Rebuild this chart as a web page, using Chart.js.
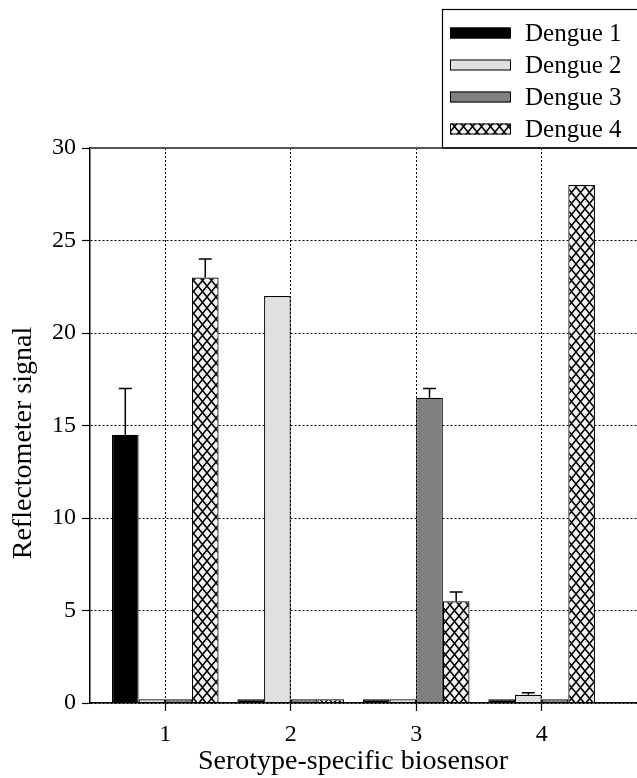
<!DOCTYPE html>
<html>
<head>
<meta charset="utf-8">
<title>Serotype-specific biosensor</title>
<script src="https://cdn.jsdelivr.net/npm/chart.js"></script>
<style>
    body { margin: 0; background: #fff; }
    #wrap { width: 637px; height: 778px; }
</style>
</head>
<body>
<div id="wrap"><canvas id="chart" width="637" height="778"></canvas></div>
<script>
// Data
const sensors = [1, 2, 3, 4];
const yTicks = [0, 5, 10, 15, 20, 25, 30];
const seriesNames = ['Dengue 1', 'Dengue 2', 'Dengue 3', 'Dengue 4'];
const dengue1 = [14.5, 0.2, 0.2, 0.2];
const dengue2 = [0.2, 22, 0.2, 0.45];
const dengue3 = [0.2, 0.2, 16.5, 0.2];
const dengue4 = [23, 0.2, 5.5, 28];
// upper error bar lengths
const dengue1Err = [2.5, 0, 0, 0];
const dengue2Err = [0, 0, 0, 0.1];
const dengue3Err = [0, 0, 0.5, 0];
const dengue4Err = [1, 0, 0.5, 0];

const SERIF = "'Liberation Serif', 'Times New Roman', serif";
Chart.defaults.font.family = SERIF;
Chart.defaults.color = '#000';

/**
 * Cross-hatch fill used for Dengue 4
 */
function makeHatch() {
    const w = 9, h = 11;
    const c = document.createElement('canvas');
    c.width = w;
    c.height = h;
    const g = c.getContext('2d');
    g.fillStyle = '#f2f2f2';
    g.fillRect(0, 0, w, h);
    g.strokeStyle = '#000';
    g.lineWidth = 1.5;
    for (const dx of [-w, 0, w]) {
        for (const dy of [-h, 0, h]) {
            g.beginPath();
            g.moveTo(dx, dy);
            g.lineTo(dx + w, dy + h);
            g.moveTo(dx + w, dy);
            g.lineTo(dx, dy + h);
            g.stroke();
        }
    }
    return g.createPattern(c, 'repeat');
}

const fills = ['#000000', '#e0e0e0', '#808080', makeHatch()];
const values = [dengue1, dengue2, dengue3, dengue4];
const errors = [dengue1Err, dengue2Err, dengue3Err, dengue4Err];

const datasets = seriesNames.map((name, k) => ({
    label: name,
    data: sensors.map((s, i) => ({ x: s, y: values[k][i] })),
    errors: errors[k],
    backgroundColor: fills[k],
    borderColor: '#000',
    borderWidth: 1.2,
    categoryPercentage: 0.85,
    barPercentage: 1
}));

// Upper error bars with caps
const errorBars = {
    id: 'errorBars',
    afterDatasetsDraw(chart) {
        const ctx = chart.ctx;
        const yScale = chart.scales.y;
        ctx.save();
        ctx.strokeStyle = '#000';
        ctx.lineWidth = 1.5;
        chart.data.datasets.forEach((ds, k) => {
            const meta = chart.getDatasetMeta(k);
            meta.data.forEach((bar, i) => {
                const err = ds.errors[i];
                if (!err) return;
                const top = yScale.getPixelForValue(ds.data[i].y + err);
                ctx.beginPath();
                ctx.moveTo(bar.x, bar.y);
                ctx.lineTo(bar.x, top);
                ctx.moveTo(bar.x - 6.5, top);
                ctx.lineTo(bar.x + 6.5, top);
                ctx.stroke();
            });
        });
        ctx.restore();
    }
};

// Solid frame line on top and boxed legend above the plot
const frameAndLegend = {
    id: 'frameAndLegend',
    afterDraw(chart) {
        const ctx = chart.ctx;
        const area = chart.chartArea;
        ctx.save();
        ctx.strokeStyle = '#555';
        ctx.lineWidth = 2;
        ctx.beginPath();
        ctx.moveTo(area.left, area.top);
        ctx.lineTo(area.right, area.top);
        ctx.stroke();

        // legend box
        const boxLeft = 442.5, boxTop = 9.5;
        ctx.strokeStyle = '#000';
        ctx.lineWidth = 1.2;
        ctx.strokeRect(boxLeft, boxTop, chart.width - boxLeft + 2, area.top - boxTop);

        ctx.font = '25px ' + SERIF;
        ctx.textBaseline = 'middle';
        chart.data.datasets.forEach((ds, k) => {
            const cy = 33 + k * 32;
            ctx.fillStyle = ds.backgroundColor;
            ctx.fillRect(450, cy - 5.5, 60, 11);
            ctx.strokeStyle = '#000';
            ctx.lineWidth = 1;
            ctx.strokeRect(450.5, cy - 5, 60, 10);
            ctx.fillStyle = '#000';
            ctx.fillText(ds.label, 525, cy + 1);
        });
        ctx.restore();
    }
};

new Chart(document.getElementById('chart'), {
    type: 'bar',
    data: { datasets: datasets },
    plugins: [errorBars, frameAndLegend],
    options: {
        responsive: false,
        animation: false,
        devicePixelRatio: 1,
        layout: { padding: { top: 148, left: 0, right: 0, bottom: 0 } },
        plugins: {
            legend: { display: false },
            tooltip: { enabled: false }
        },
        scales: {
            x: {
                type: 'linear',
                offset: false,
                min: 0.4,
                max: 4.76,
                afterBuildTicks(scale) {
                    scale.ticks = sensors.map(v => ({ value: v }));
                },
                afterFit(scale) {
                    scale.height = 75;
                },
                ticks: {
                    padding: 9,
                    font: { size: 24 },
                    callback: v => String(v)
                },
                grid: {
                    offset: false,
                    color: '#000',
                    lineWidth: 1,
                    tickLength: 8,
                    tickColor: '#000',
                    tickWidth: 1.2
                },
                border: { color: '#000', width: 1.5, dash: [2, 2], z: 1 },
                title: {
                    display: true,
                    text: 'Serotype-specific biosensor\u00a0\u00a0\u00a0',
                    font: { size: 28 },
                    padding: { top: 0, bottom: 0 }
                }
            },
            y: {
                min: 0,
                max: 30,
                afterBuildTicks(scale) {
                    scale.ticks = yTicks.map(v => ({ value: v }));
                },
                afterFit(scale) {
                    scale.width = 90;
                },
                ticks: {
                    padding: 6,
                    font: { size: 24 }
                },
                grid: {
                    color: '#000',
                    lineWidth: 1,
                    tickLength: 8,
                    tickColor: '#000',
                    tickWidth: 1.2
                },
                border: { color: '#000', width: 1.5, dash: [2, 2] },
                title: {
                    display: true,
                    text: 'Reflectometer signal\u00a0\u00a0\u00a0\u00a0\u00a0',
                    font: { size: 28 },
                    padding: { top: 7, bottom: 0 }
                }
            }
        }
    }
});
</script>
</body>
</html>
